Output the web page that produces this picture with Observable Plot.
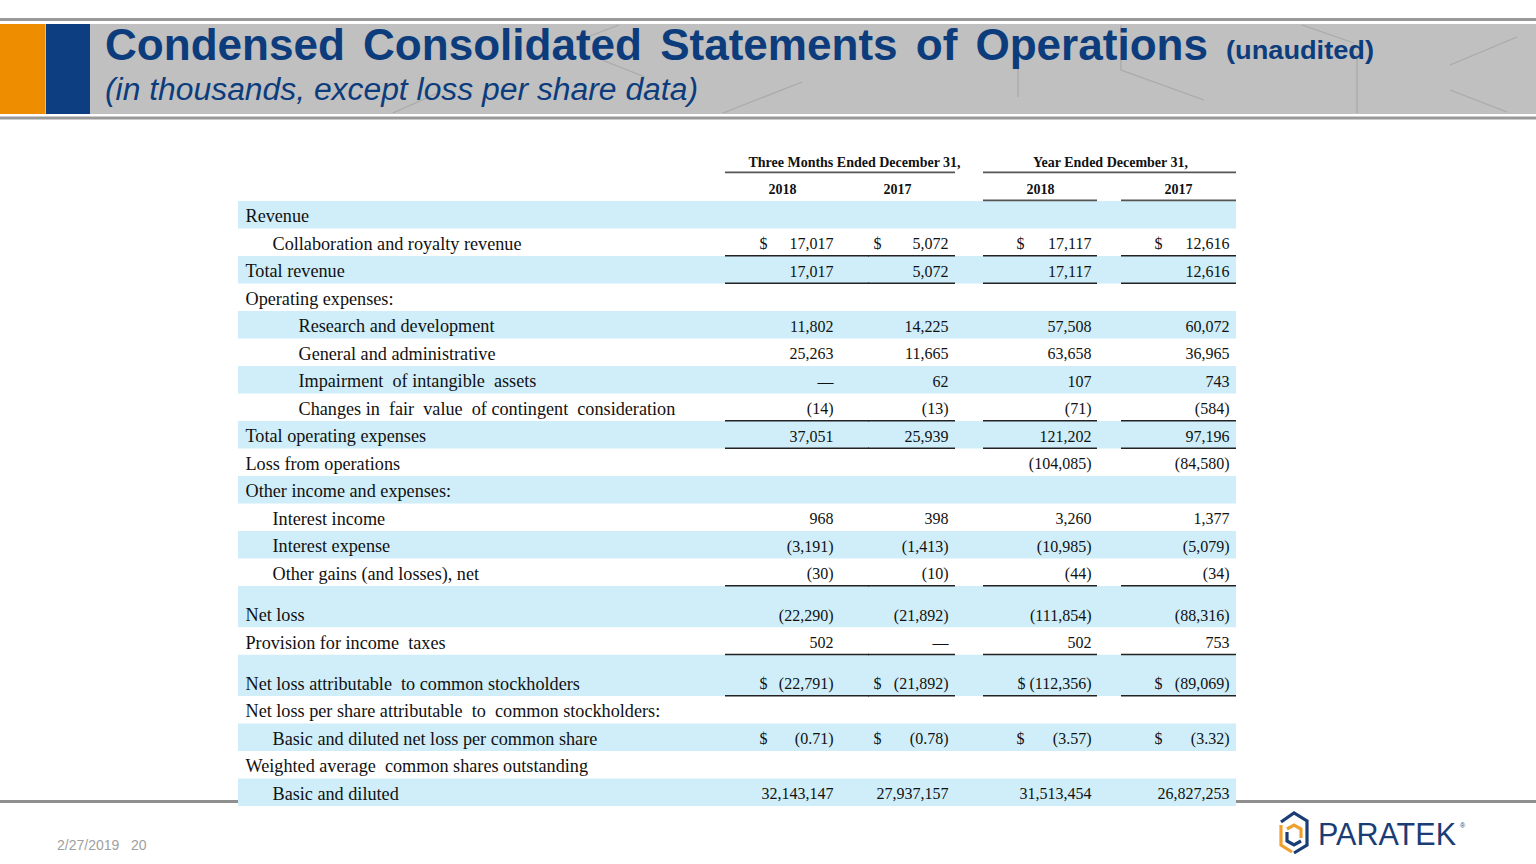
<!DOCTYPE html>
<html>
<head>
<meta charset="utf-8">
<script src="https://cdn.jsdelivr.net/npm/d3@7"></script>
<script src="https://cdn.jsdelivr.net/npm/@observablehq/plot@0.6"></script>
<style>
  html, body { margin: 0; padding: 0; background: #fff; }
  body { width: 1536px; height: 864px; overflow: hidden; position: relative; font-family: "Liberation Sans", Arial, sans-serif; }
  #banner, #footer { position: absolute; left: 0; top: 0; }
  #table { position: absolute; left: 0; top: 140px; }
</style>
</head>
<body>
<svg id="banner" width="1536" height="130" xmlns="http://www.w3.org/2000/svg">
  <rect x="0" y="18" width="1536" height="3" fill="#999"/>
  <rect x="0" y="24" width="1536" height="90" fill="#c0c0c0"/>
  <rect x="0" y="116.5" width="1536" height="3" fill="#999"/>
  <g stroke="#a9a9a9" stroke-width="1.3" fill="none">
    <path d="M393,113 L440,92"/>
    <path d="M590,36 L619,25"/>
    <path d="M602,60 L645,77"/>
    <path d="M723,113 L802,82"/>
    <path d="M1018,60 L1018,97"/>
    <path d="M1121,25 L1121,70 L1204,100"/>
    <path d="M1302,25 L1354,43"/>
    <path d="M1357,52 L1357,113"/>
    <path d="M1450,65 L1517,37"/>
    <path d="M1450,90 L1507,112"/>
  </g>
  <rect x="0" y="24" width="45" height="90" fill="#ef8d00"/>
  <rect x="46" y="24" width="44" height="90" fill="#0d3e82"/>
  <text x="105" y="60" font-family="Liberation Sans, Arial, sans-serif" font-weight="bold" fill="#0d3c7c"><tspan font-size="45" word-spacing="6" textLength="1103" lengthAdjust="spacingAndGlyphs">Condensed Consolidated Statements of Operations</tspan><tspan x="1226" y="59" font-size="25" textLength="148" lengthAdjust="spacingAndGlyphs">(unaudited)</tspan></text>
  <text x="105" y="100" font-family="Liberation Sans, Arial, sans-serif" font-style="italic" font-size="31" fill="#0d3c7c" textLength="593" lengthAdjust="spacingAndGlyphs">(in thousands, except loss per share data)</text>
</svg>
<svg id="footer" width="1536" height="864" xmlns="http://www.w3.org/2000/svg">
  <rect x="0" y="800" width="1536" height="3" fill="#8f8f8f"/>
  <text x="57" y="850" font-family="Liberation Sans, Arial, sans-serif" font-size="14" fill="#a0a0a0">2/27/2019</text>
  <text x="131" y="850" font-family="Liberation Sans, Arial, sans-serif" font-size="14" fill="#a0a0a0">20</text>
  <g fill="none" stroke-width="3.2" stroke-linejoin="miter">
    <path d="M1281,822 L1294,813 L1307,821 L1307,845 L1294,853" stroke="#1b3d75"/>
    <path d="M1281,825 L1281,845 L1292,852" stroke="#f0a030"/>
    <path d="M1287,829 L1294,825 L1301,829 L1301,838" stroke="#f0a030"/>
    <path d="M1287,832 L1287,841 L1294,845 L1301,841" stroke="#1b3d75"/>
  </g>
  <text x="1318" y="845" font-family="Liberation Sans, Arial, sans-serif" font-size="31" fill="#1b3d75" textLength="138" lengthAdjust="spacingAndGlyphs">PARATEK</text>
  <text x="1460" y="828" font-family="Liberation Sans, Arial, sans-serif" font-size="7" fill="#1b3d75">®</text>
</svg>
<div id="table"></div>
<script>
// ---------------- DATA ----------------
const rowLabels = [
  "Revenue",
  "Collaboration and royalty revenue",
  "Total revenue",
  "Operating expenses:",
  "Research and development",
  "General and administrative",
  "Impairment  of intangible  assets",
  "Changes in  fair  value  of contingent  consideration",
  "Total operating expenses",
  "Loss from operations",
  "Other income and expenses:",
  "Interest income",
  "Interest expense",
  "Other gains (and losses), net",
  "Net loss",
  "Provision for income  taxes",
  "Net loss attributable  to common stockholders",
  "Net loss per share attributable  to  common stockholders:",
  "Basic and diluted net loss per common share",
  "Weighted average  common shares outstanding",
  "Basic and diluted"
];
const rowIndent = [0,1,0,0,2,2,2,2,0,0,0,1,1,1,0,0,0,0,1,0,1];
const periodGroups = ["Three Months Ended December 31,", "Year Ended December 31,"];
const columnYears = ["2018", "2017", "2018", "2017"];
// null = blank cell, 0 = em dash
const q2018 = [null,17017,17017,null,11802,25263,0,-14,37051,null,null,968,-3191,-30,-22290,502,-22791,null,-0.71,null,32143147];
const q2017 = [null,5072,5072,null,14225,11665,62,-13,25939,null,null,398,-1413,-10,-21892,0,-21892,null,-0.78,null,27937157];
const y2018 = [null,17117,17117,null,57508,63658,107,-71,121202,-104085,null,3260,-10985,-44,-111854,502,-112356,null,-3.57,null,31513454];
const y2017 = [null,12616,12616,null,60072,36965,743,-584,97196,-84580,null,1377,-5079,-34,-88316,753,-89069,null,-3.32,null,26827253];
const dollarRows = [1, 16, 18];
const perShareRows = [18];
const underlineRows = [1, 2, 7, 8, 13, 15, 16];
const spacedRows = [14, 16];

// ---------------- LAYOUT ----------------
const L = {
  left: 238, right: 1236,
  labelX: [245, 272, 298],
  numRight: [833, 948, 1091, 1229],
  dollarX: [759, 873, 1016, 1154],
  ul: [[725, 869], [868, 955], [983, 1097], [1121, 1236]],
  groupCenter: [854, 1110],
  groupLine: [[725, 955], [983, 1236]],
  yearCenter: [782, 897, 1040, 1178],
  yearLineCols: [2, 3],
  tightDollar: [[16, 2]]
};
const serif = "'Liberation Serif', 'Times New Roman', serif";

const rows = rowLabels.map((label, i) => ({ i, label, indent: rowIndent[i] }));
let acc = 0;
for (const r of rows) { r.u0 = acc; acc += spacedRows.includes(r.i) ? 1.5 : 1; r.u1 = acc; }
const total = acc;
const textY = r => r.u1 - 0.45;

const series = [q2018, q2017, y2018, y2017];
const isTight = (ri, c) => L.tightDollar.some(([a, b]) => a === ri && b === c);
const fmtInt = d3.format(",");
const fmtPS = d3.format(".2f");
function fmt(v, ri) {
  if (v == null) return "";
  if (v === 0) return "\u2014";
  const f = perShareRows.includes(ri) ? fmtPS : fmtInt;
  return v < 0 ? `(${f(-v)})` : f(v);
}
const cells = rows.flatMap(r => series.map((s, c) => ({ r, c, v: s[r.i] }))).filter(d => d.v != null);
cells.forEach(d => {
  d.hasDollar = dollarRows.includes(d.r.i);
  d.tight = d.hasDollar && isTight(d.r.i, d.c);
  d.text = (d.tight ? "$ " : "") + fmt(d.v, d.r.i);
});

const underlines = rows.filter(r => underlineRows.includes(r.i)).flatMap(r => [0,1,2,3].map(c => ({ r, c })));
const groups = periodGroups.map((g, k) => ({ g, k }));
const years = columnYears.map((y, c) => ({ y, c }));

const plot = Plot.plot({
  width: 1536,
  height: 680,
  margin: 0,
  x: { domain: [0, 1536], range: [0, 1536], axis: null },
  y: { domain: [0, total], range: [61, 666], axis: null },
  style: { background: "transparent", overflow: "visible" },
  marks: [
    Plot.rect(rows.filter(r => r.i % 2 === 0), {
      x1: () => L.left, x2: () => L.right, y1: "u0", y2: "u1", fill: "#cfeefa"
    }),
    Plot.text(groups, {
      x: d => L.groupCenter[d.k], y: () => -1.4, text: "g",
      fontFamily: serif, fontWeight: "bold", fontSize: 14, fill: "#111"
    }),
    Plot.ruleY(groups, {
      y: () => -1.06, x1: d => L.groupLine[d.k][0], x2: d => L.groupLine[d.k][1],
      stroke: "#555", strokeWidth: 1.8
    }),
    Plot.text(years, {
      x: d => L.yearCenter[d.c], y: () => -0.45, text: "y",
      fontFamily: serif, fontWeight: "bold", fontSize: 14, fill: "#111"
    }),
    Plot.ruleY(years.filter(d => L.yearLineCols.includes(d.c)), {
      y: () => -0.04, x1: d => L.ul[d.c][0], x2: d => L.ul[d.c][1],
      stroke: "#555", strokeWidth: 1.8
    }),
    Plot.text(rows, {
      x: r => L.labelX[r.indent], y: textY, text: "label", textAnchor: "start",
      fontFamily: serif, fontSize: 18.2, fill: "#111"
    }),
    Plot.text(cells, {
      x: d => L.numRight[d.c], y: d => textY(d.r), text: "text", textAnchor: "end",
      fontFamily: serif, fontSize: 16, fill: "#111"
    }),
    Plot.text(cells.filter(d => d.hasDollar && !d.tight), {
      x: d => L.dollarX[d.c], y: d => textY(d.r), text: () => "$", textAnchor: "start",
      fontFamily: serif, fontSize: 16, fill: "#111"
    }),
    Plot.ruleY(underlines, {
      y: d => d.r.u1 - 0.03, x1: d => L.ul[d.c][0], x2: d => L.ul[d.c][1],
      stroke: "#222", strokeWidth: 1.5
    })
  ]
});
document.getElementById("table").appendChild(plot);
</script>
</body>
</html>
